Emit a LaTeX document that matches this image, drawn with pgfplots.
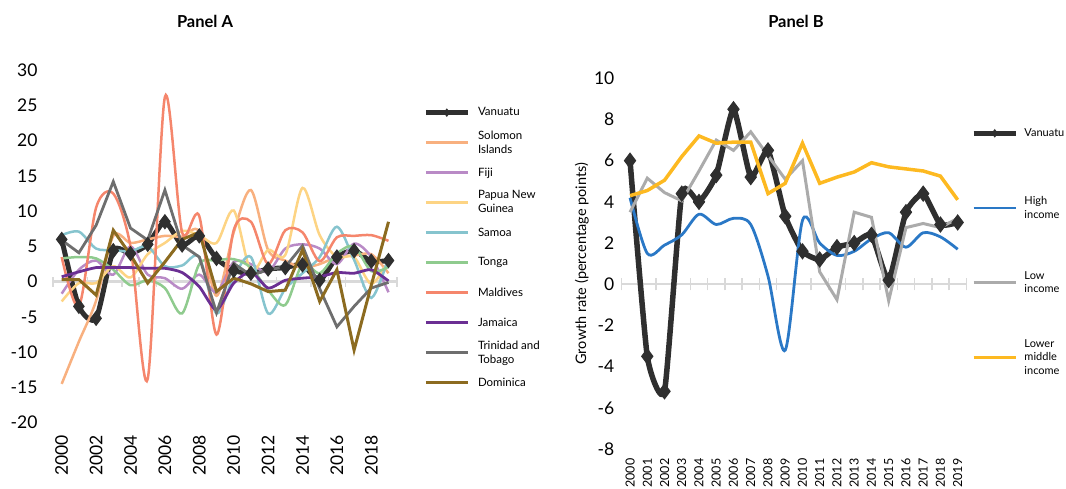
\documentclass[border=0pt]{standalone}
\usepackage{fontspec}
\setmainfont{Lato}
\usepackage{pgfplots}
\usepackage{pgfplotstable}
\pgfplotsset{compat=1.18}

\definecolor{van}{HTML}{2F2F2F}
\definecolor{sol}{HTML}{F8B07F}
\definecolor{fij}{HTML}{B98AC6}
\definecolor{png}{HTML}{FDD484}
\definecolor{sam}{HTML}{86C4CE}
\definecolor{ton}{HTML}{8FCB8E}
\definecolor{mal}{HTML}{F5866C}
\definecolor{jam}{HTML}{6B2F93}
\definecolor{tt}{HTML}{6E6E6E}
\definecolor{dom}{HTML}{8C6B20}
\definecolor{hi}{HTML}{2A78C6}
\definecolor{lo}{HTML}{ABABAB}
\definecolor{lmi}{HTML}{FDB921}
\definecolor{zero}{HTML}{D9D9D9}

\pgfplotstableread{
year van sol fij png sam ton mal jam tt dom
2000 6.0 -14.5 -1.7 -2.8 6.6 3.3 3.5 0.7 5.9 0.3
2001 -3.5 -8.5 1.7 -0.2 7.1 3.5 -3.5 1.4 4.1 0.3
2002 -5.2 -2.7 3.0 -0.2 4.7 3.3 10.5 2.0 8.0 -1.9
2003 4.4 6.5 1.0 2.2 4.5 1.7 12.5 2.0 14.2 7.3
2004 4.0 5.5 5.0 0.6 4.3 -0.5 5.0 2.0 7.6 3.8
2005 5.3 6.0 1.0 3.9 5.0 0.2 -13.8 1.9 5.9 -0.2
2006 8.5 6.5 0.5 5.5 2.2 -0.9 26.2 1.9 13.0 2.8
2007 5.2 6.4 -1.0 7.2 2.3 -4.5 7.0 1.3 5.2 6.0
2008 6.5 7.1 1.0 6.6 3.5 2.5 9.3 -0.7 3.5 7.0
2009 3.3 -2.0 -1.5 5.5 -4.5 3.0 -7.5 -4.0 -4.4 -1.4
2010 1.6 7.0 2.8 10.1 0.7 3.2 7.3 -0.2 2.6 0.5
2011 1.2 13.0 2.5 1.5 3.5 2.0 8.5 1.4 0.9 -0.3
2012 1.8 4.5 1.4 4.5 -4.5 -1.2 2.5 -0.9 1.7 -1.4
2013 2.0 3.0 4.7 3.8 -1.0 -3.3 7.3 0.2 2.1 -1.2
2014 2.4 2.0 5.3 13.3 1.2 2.5 7.0 0.5 5.1 4.5
2015 0.2 2.5 4.7 6.6 3.5 1.2 2.9 0.7 -1.0 -2.8
2016 3.5 3.5 2.5 3.5 7.8 4.0 6.3 1.3 -6.4 1.7
2017 4.4 3.7 5.4 3.5 3.1 5.0 6.5 1.2 -3.5 -9.7
2018 2.9 3.9 3.5 -0.3 -2.3 1.5 6.6 1.7 -0.9 -0.5
2019 3.0 1.2 -1.5 3.0 3.4 2.1 5.8 0.1 -0.1 8.5
}\dataA

\pgfplotstableread{
year van hi lo lmi
2000 6.0 4.2 3.5 4.3
2001 -3.5 1.5 5.15 4.55
2002 -5.2 1.9 4.45 5.05
2003 4.4 2.4 4.05 6.2
2004 4.0 3.4 5.5 7.2
2005 5.3 2.9 7.0 6.85
2006 8.5 3.2 6.5 6.9
2007 5.2 2.9 7.4 6.9
2008 6.5 0.4 6.25 4.4
2009 3.3 -3.2 5.1 4.9
2010 1.6 3.1 6.0 6.85
2011 1.2 2.0 0.6 4.9
2012 1.8 1.4 -0.75 5.2
2013 2.0 1.6 3.5 5.45
2014 2.4 2.2 3.25 5.9
2015 0.2 2.5 -0.8 5.7
2016 3.5 1.8 2.75 5.6
2017 4.4 2.5 2.95 5.5
2018 2.9 2.3 2.75 5.25
2019 3.0 1.7 3.2 4.1
}\dataB

\pgfplotsset{
  base/.style={
    scale only axis, clip=false,
    axis line style={draw=none},
    major tick length=0pt, minor tick length=0pt,
    tick style={draw=none},
    xmin=1999.5, xmax=2019.5,
    /pgf/number format/assume math mode=true,
    /pgf/number format/1000 sep={},
    legend cell align=left,
    legend image code/.code={\draw[##1, mark size=3.5pt, mark repeat=2, mark phase=2] plot coordinates {(0pt,0pt) (21pt,0pt) (42pt,0pt)};},
  },
}

\begin{document}
\begin{tikzpicture}
\path[use as bounding box] (0pt,0pt) rectangle (1066pt,488pt);

% ---------------- Panel A ----------------
\begin{axis}[base,
  at={(53.1pt,65.3pt)}, anchor=south west,
  width=344pt, height=352.5pt,
  ymin=-20, ymax=30, ytick={-20,-15,...,30},
  xtick={2000,2002,...,2018},
  yticklabel style={font=\fontsize{17.5}{21}\selectfont, anchor=east, inner sep=0pt, xshift=-15.4pt},
  xticklabel style={font=\fontsize{17.5}{21}\selectfont, yshift=-12.3pt, rotate=90, anchor=east, inner sep=0pt},
  title={Panel A},
  title style={at={(axis description cs:0.4416,1.1226)}, anchor=center, font=\bfseries\fontsize{16.5}{19}\selectfont},
  legend style={at={(axis description cs:1.0762,0.9223)}, anchor=north west,
    draw=none, fill=none, inner sep=0pt, outer sep=0pt, row sep=0pt,
    font=\fontsize{11.5}{14}\selectfont,
    nodes={inner sep=0pt, minimum height=30pt, align=left, anchor=west},
    /tikz/every odd column/.append style={column sep=7.7pt}},
]
\draw[zero, line width=2.5pt] (axis cs:1999.5,0) -- (axis cs:2019.5,0);
\pgfplotsinvokeforeach{1999.5,2000.5,2001.5,2002.5,2003.5,2004.5,2005.5,2006.5,2007.5,2008.5,2009.5,2010.5,2011.5,2012.5,2013.5,2014.5,2015.5,2016.5,2017.5,2018.5,2019.5}{
  \draw[zero, line width=1.5pt] (axis cs:#1,-0.7) -- (axis cs:#1,0.7);
}
\addplot[van, line width=5pt, smooth, tension=0.4, mark=diamond*, mark size=7pt, mark options={line width=1pt, fill=van}] table[x=year,y=van]{\dataA};
\addlegendentry{Vanuatu}
\addplot[sol, line width=2.5pt, smooth, tension=0.5] table[x=year,y=sol]{\dataA};
\addlegendentry{Solomon\\Islands}
\addplot[fij, line width=2.5pt, smooth, tension=0.5] table[x=year,y=fij]{\dataA};
\addlegendentry{Fiji}
\addplot[png, line width=2.5pt, smooth, tension=0.5] table[x=year,y=png]{\dataA};
\addlegendentry{Papua New\\Guinea}
\addplot[sam, line width=2.5pt, smooth, tension=0.5] table[x=year,y=sam]{\dataA};
\addlegendentry{Samoa}
\addplot[ton, line width=2.5pt, smooth, tension=0.5] table[x=year,y=ton]{\dataA};
\addlegendentry{Tonga}
\addplot[mal, line width=2.5pt, smooth, tension=0.5] table[x=year,y=mal]{\dataA};
\addlegendentry{Maldives}
\addplot[jam, line width=2.8pt, smooth, tension=0.4] table[x=year,y=jam]{\dataA};
\addlegendentry{Jamaica}
\addplot[tt, line width=2.8pt] table[x=year,y=tt]{\dataA};
\addlegendentry{Trinidad and\\Tobago}
\addplot[dom, line width=3pt] table[x=year,y=dom]{\dataA};
\addlegendentry{Dominica}
\end{axis}

% ---------------- Panel B ----------------
\begin{axis}[base,
  at={(621.4pt,39pt)}, anchor=south west,
  width=344.9pt, height=370.7pt,
  ymin=-8, ymax=10, ytick={-8,-6,...,10},
  xtick={2000,2001,...,2019},
  yticklabel style={font=\fontsize{17.5}{21}\selectfont, anchor=east, inner sep=0pt, xshift=-6.9pt},
  xticklabel style={font=\fontsize{12.5}{15}\selectfont, yshift=-9.3pt, rotate=90, anchor=east, inner sep=0pt},
  ylabel={Growth rate (percentage points)},
  ylabel style={at={(axis description cs:-0.115,0.5)}, anchor=center, font=\fontsize{14.5}{17}\selectfont},
  title={Panel B},
  title style={at={(axis description cs:0.5062,1.1384)}, anchor=center, font=\bfseries\fontsize{16.5}{19}\selectfont},
  legend style={at={(axis description cs:1.0136,0.9524)}, anchor=north west,
    draw=none, fill=none, inner sep=0pt, outer sep=0pt, row sep=0pt,
    font=\fontsize{11}{13.5}\selectfont,
    nodes={inner sep=0pt, minimum height=74.7pt, align=left, anchor=west},
    /tikz/every odd column/.append style={column sep=6pt}},
]
\draw[zero, line width=2.5pt] (axis cs:1999.5,0) -- (axis cs:2019.5,0);
\pgfplotsinvokeforeach{1999.5,2000.5,2001.5,2002.5,2003.5,2004.5,2005.5,2006.5,2007.5,2008.5,2009.5,2010.5,2011.5,2012.5,2013.5,2014.5,2015.5,2016.5,2017.5,2018.5,2019.5}{
  \draw[zero, line width=1.5pt] (axis cs:#1,-0.3) -- (axis cs:#1,0.3);
}
\addplot[van, line width=5.5pt, smooth, tension=0.3, mark=diamond*, mark size=7.5pt, mark options={line width=1pt, fill=van}] table[x=year,y=van]{\dataB};
\addlegendentry{Vanuatu}
\addplot[hi, line width=2.8pt, smooth, tension=0.5] table[x=year,y=hi]{\dataB};
\addlegendentry{High\\income}
\addplot[lo, line width=3pt] table[x=year,y=lo]{\dataB};
\addlegendentry{Low\\income}
\addplot[lmi, line width=3.5pt] table[x=year,y=lmi]{\dataB};
\addlegendentry{Lower\\middle\\income}
\end{axis}
\end{tikzpicture}
\end{document}
